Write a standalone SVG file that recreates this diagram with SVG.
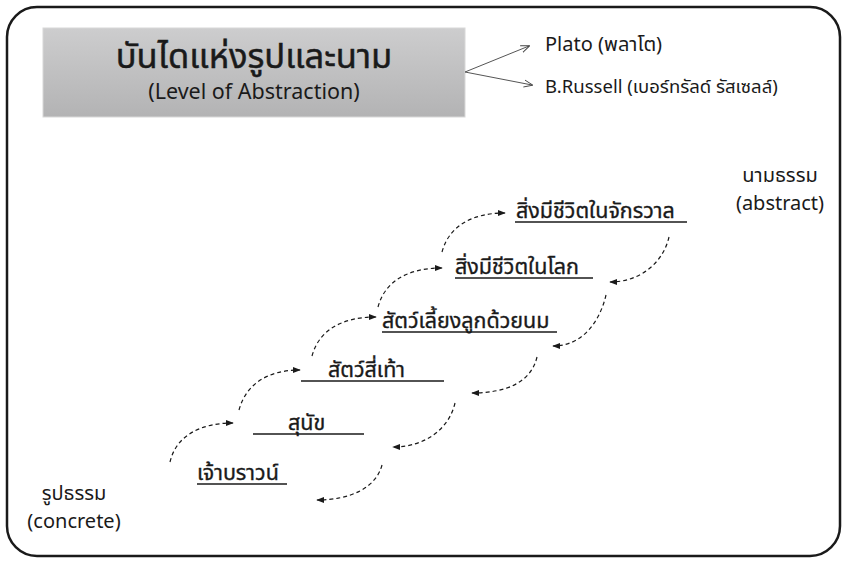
<svg xmlns="http://www.w3.org/2000/svg" width="845" height="562" viewBox="0 0 845 562">
  <defs>
    <linearGradient id="boxFill" x1="0" y1="0" x2="0" y2="1">
      <stop offset="0" stop-color="#cdcdce"/>
      <stop offset="1" stop-color="#b3b3b4"/>
    </linearGradient>
    <marker id="head" viewBox="0 0 10 10" refX="9" refY="5" markerWidth="8" markerHeight="8" markerUnits="userSpaceOnUse" orient="auto">
      <path d="M0,1 L10,5 L0,9 z" fill="#1a1a1a"/>
    </marker>
    <marker id="open" viewBox="0 0 10 10" refX="9" refY="5" markerWidth="9" markerHeight="9" markerUnits="userSpaceOnUse" orient="auto">
      <path d="M0,1 L10,5 L0,9" fill="none" stroke="#444" stroke-width="1"/>
    </marker>
    <style>
      text { font-family: Tahoma, "Noto Sans Thai", "DejaVu Sans", "Liberation Sans", sans-serif; fill: #1a1a1a; }
      .heavy { stroke: #1a1a1a; stroke-width: 0.5; }
      .step { font-size: 21.5px; stroke: #1a1a1a; stroke-width: 0.35; }
      .side { font-size: 20px; text-anchor: middle; }
      .uline { stroke: #1a1a1a; stroke-width: 1.6; }
      .flow { fill: none; stroke: #1a1a1a; stroke-width: 1.2; stroke-dasharray: 4 3; marker-end: url(#head); }
      .thin { fill: none; stroke: #555; stroke-width: 1; marker-end: url(#open); }
    </style>
  </defs>

  <!-- outer frame -->
  <rect x="7" y="7" width="833" height="549" rx="30" ry="30" fill="#fff" stroke="#1a1a1a" stroke-width="2.5"/>

  <!-- title block -->
  <g id="title">
    <rect x="43" y="28" width="422" height="89" fill="url(#boxFill)" stroke="#d8d8d8" stroke-width="1"/>
    <text class="heavy" x="254" y="68" font-size="34.5" text-anchor="middle">บันไดแห่งรูปและนาม</text>
    <text x="254" y="99" font-size="21.5" text-anchor="middle">(Level of Abstraction)</text>
  </g>

  <g id="plato">
    <text x="545" y="51" font-size="20">Plato (พลาโต)</text>
  </g>
  <g id="russell">
    <text x="545" y="93" font-size="18.5">B.Russell (เบอร์ทรัลด์ รัสเซลล์)</text>
  </g>

  <g id="abstract">
    <text class="side" x="780" y="182">นามธรรม</text>
    <text class="side" x="780" y="210">(abstract)</text>
  </g>
  <g id="concrete">
    <text class="side" x="74" y="500">รูปธรรม</text>
    <text class="side" x="74" y="528">(concrete)</text>
  </g>

  <!-- ladder steps, top to bottom -->
  <g id="universe">
    <text class="step" x="516" y="218">สิ่งมีชีวิตในจักรวาล</text>
    <line class="uline" x1="515" y1="222" x2="687" y2="222"/>
  </g>
  <g id="earth">
    <text class="step" x="455" y="274">สิ่งมีชีวิตในโลก</text>
    <line class="uline" x1="455" y1="278" x2="593" y2="278"/>
  </g>
  <g id="mammal">
    <text class="step" x="382" y="328">สัตว์เลี้ยงลูกด้วยนม</text>
    <line class="uline" x1="382" y1="332" x2="557" y2="332"/>
  </g>
  <g id="quadruped">
    <text class="step" x="328" y="377">สัตว์สี่เท้า</text>
    <line class="uline" x1="301" y1="381" x2="444" y2="381"/>
  </g>
  <g id="dog">
    <text class="step" x="288" y="430">สุนัข</text>
    <line class="uline" x1="253" y1="434" x2="364" y2="434"/>
  </g>
  <g id="brown">
    <text class="step" x="197" y="480">เจ้าบราวน์</text>
    <line class="uline" x1="197" y1="484" x2="287" y2="484"/>
  </g>

  <g id="connectors">
    <!-- title to authors -->
    <path class="thin" d="M465,72 L529,46"/>
    <path class="thin" d="M465,72 L532,85"/>
    <!-- climbing up -->
    <path class="flow" d="M170,462 C176,436 200,423 233,423"/>
    <path class="flow" d="M239,410 C246,384 268,370 300,370"/>
    <path class="flow" d="M312,356 C319,330 342,317 376,317"/>
    <path class="flow" d="M378,307 C385,281 408,268 442,268"/>
    <path class="flow" d="M442,252 C449,226 472,213 505,213"/>
    <!-- coming down -->
    <path class="flow" d="M669,237 C663,263 640,282 610,282"/>
    <path class="flow" d="M606,295 C600,321 583,346 553,346"/>
    <path class="flow" d="M537,357 C531,383 505,393 472,393"/>
    <path class="flow" d="M455,403 C449,429 425,447 393,447"/>
    <path class="flow" d="M382,465 C376,488 350,500 317,500"/>
  </g>
</svg>
